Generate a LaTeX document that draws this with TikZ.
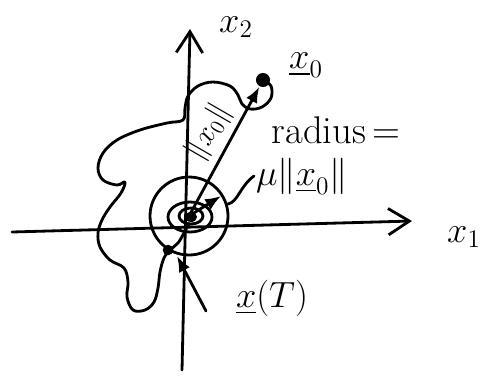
\documentclass[tikz,border=0pt]{standalone}
\usepackage{amsmath,amssymb}
\usetikzlibrary{arrows.meta,positioning,calc}

\begin{document}
\begin{tikzpicture}[x=0.02cm,y=-0.02cm,
  ink/.style={line width=1.6pt,line cap=round,line join=round},
  axisarrow/.style={-{Straight Barb[length=12pt,width=15pt,line width=1.6pt]}},
  vecarrow/.style={-{Latex[length=9pt,width=7pt]}},
  lbl/.style={font=\fontsize{22}{26}\selectfont,inner sep=1pt}]
  \useasboundingbox (0,0) rectangle (493,376);
  \coordinate (x2s) at (182,370);
  \coordinate (x2e) at (190,29);
  \coordinate (x1s) at (12,232);
  \coordinate (x1e) at (412,221);
  \coordinate (ctr) at (189,216);
  \coordinate (x0) at (263,80);
  \coordinate (rtip) at (221,196);
  \coordinate (wbeg) at (228,204);
  \coordinate (tbeg) at (206,311);
  \coordinate (tpt) at (177,256);
  % axes
  \draw[ink,axisarrow] (x2s) -- (x2e);
  \draw[ink,axisarrow] (x1s) -- (x1e);
  % trajectory from x0 into the origin
  \draw[ink] plot[smooth,tension=0.6] coordinates {
    (263,80) (271,86) (271,98) (262,107) (250,109) (242,104) (238,95)
    (230,86) (213,82) (198,86) (188,96) (185,108) (183,120) (167,123)
    (140,130) (117,140) (103,153) (98,168) (103,180) (117,185) (125,182)
    (121,193) (110,207) (102,220) (98,233) (100,247) (110,260) (124,268)
    (128,282) (127,297) (133,310) (145,310) (154,302) (158,288) (160,272)
    (164,258) (170,250) (178,243) (184,233) (189,224)};
  \fill (168,250) circle (3pt);
  % rings round the origin
  \draw[ink] (ctr) circle[radius=39];
  \draw[ink] (190,217) ellipse[x radius=22,y radius=15];
  \draw[ink] (191,216) ellipse[x radius=12,y radius=8];
  \fill (191,217) ellipse[x radius=6,y radius=5];
  % vectors
  \draw[ink,vecarrow] (ctr) -- ($(ctr)!0.95!(x0)$);
  \fill (x0) circle (4pt);
  \draw[ink,vecarrow] (ctr) -- (rtip);
  % labels
  \node[lbl] (x2lab) at (236,27) {$x_2$};
  \node[lbl] (x1lab) at (464,237) {$x_1$};
  \node[lbl] (x0lab) at (306,65) {$\underline{x}_0$};
  \node[lbl,rotate=60,font=\fontsize{17}{20}\selectfont] (nrm) at (209,132) {$\|x_0\|$};
  \node[lbl] (rad) at (336,130) {radius\,=};
  \node[lbl,anchor=west] (mu) at (254,176) {$\mu\|\underline{x}_0\|$};
  \node[lbl] (xT) at (272,298) {$\underline{x}(T)$};
  % connectors
  \draw[ink] (wbeg) .. controls (238,202) and (240,186) .. (mu.west);
  \draw[ink,vecarrow] (tbeg) -- (tpt);
\end{tikzpicture}
\end{document}
